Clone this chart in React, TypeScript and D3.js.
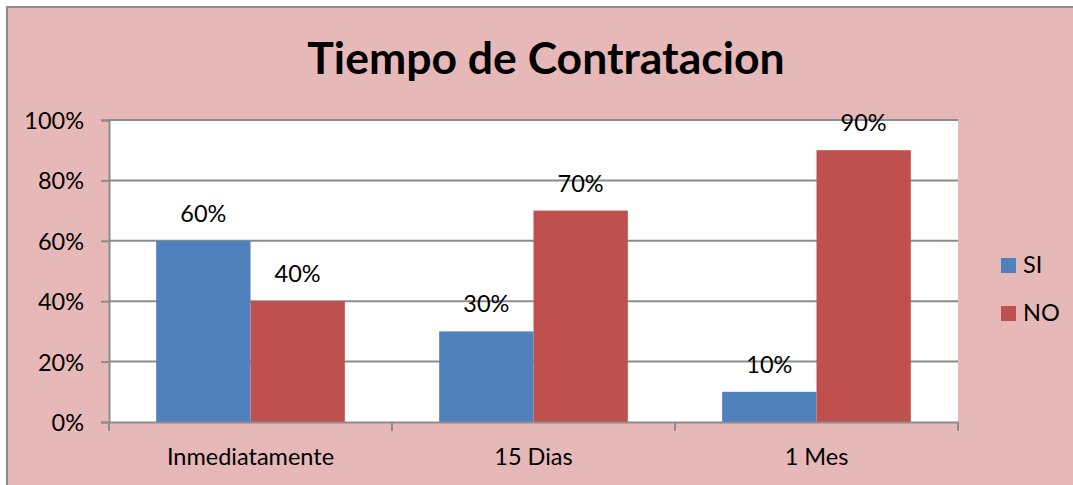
import React, { useEffect, useRef } from 'react';
import * as d3 from 'd3';

const categories = ['Inmediatamente', '15 Dias', '1 Mes'];
const seriesNames = ['SI', 'NO'];
const siValues = [0.6, 0.3, 0.1];
const noValues = [0.4, 0.7, 0.9];
const yTicks = [0, 0.2, 0.4, 0.6, 0.8, 1];
const colors = ['#4F81BD', '#C0504D'];

const App = () => {
  const ref = useRef<SVGSVGElement>(null);

  useEffect(() => {
    const svg = d3.select(ref.current);
    svg.selectAll('*').remove();

    const width = 1073;
    const height = 485;
    const font = 'Lato, "Open Sans", sans-serif';
    const fs = 23.5;
    const plot = { left: 109, top: 120, right: 958, bottom: 422 };

    // chart background + outer border
    svg.append('rect').attr('x', 7).attr('y', 7).attr('width', width + 10).attr('height', height + 10)
      .attr('fill', '#E6B8B7').attr('stroke', '#8c8c8c').attr('stroke-width', 2);

    svg.append('text').attr('x', 546).attr('y', 74).attr('text-anchor', 'middle')
      .attr('font-family', font).attr('font-weight', 'bold').attr('font-size', 44.5)
      .attr('fill', '#000').text('Tiempo de Contratacion');

    const x0 = d3.scaleBand().domain(categories).range([plot.left, plot.right]).paddingInner(0).paddingOuter(0);
    const x1 = d3.scaleBand().domain(seriesNames).range([0, x0.bandwidth()]).paddingInner(0).paddingOuter(0.5);
    const y = d3.scaleLinear().domain([0, 1]).range([plot.bottom, plot.top]);

    svg.append('rect').attr('x', plot.left).attr('y', plot.top)
      .attr('width', plot.right - plot.left).attr('height', plot.bottom - plot.top).attr('fill', '#fff');

    // gridlines
    svg.append('g').selectAll('line').data(yTicks.filter((d) => d > 0)).enter().append('line')
      .attr('x1', plot.left).attr('x2', plot.right)
      .attr('y1', (d) => y(d)).attr('y2', (d) => y(d))
      .attr('stroke', '#8c8c8c').attr('stroke-width', 2);

    const data = categories.map((c, i) => ({ cat: c, vals: [siValues[i], noValues[i]] }));

    const groups = svg.append('g').selectAll('g').data(data).enter().append('g')
      .attr('transform', (d) => `translate(${x0(d.cat)},0)`);

    groups.selectAll('rect').data((d) => d.vals.map((v, j) => ({ v, s: seriesNames[j], j }))).enter().append('rect')
      .attr('x', (d) => x1(d.s)!)
      .attr('y', (d) => y(d.v))
      .attr('width', x1.bandwidth())
      .attr('height', (d) => plot.bottom - y(d.v))
      .attr('fill', (d) => colors[d.j]);

    groups.selectAll('text').data((d) => d.vals.map((v, j) => ({ v, s: seriesNames[j] }))).enter().append('text')
      .attr('x', (d) => x1(d.s)! + x1.bandwidth() / 2)
      .attr('y', (d) => y(d.v) - 19)
      .attr('text-anchor', 'middle').attr('font-family', font).attr('font-size', fs).attr('fill', '#000')
      .text((d) => d3.format('.0%')(d.v));

    // y axis
    const yAxis = svg.append('g').attr('transform', `translate(${plot.left},0)`)
      .call(d3.axisLeft(y).tickValues(yTicks).tickFormat(d3.format('.0%')).tickSize(8).tickPadding(17));
    yAxis.select('.domain').attr('stroke', '#8c8c8c').attr('stroke-width', 2);
    yAxis.selectAll('.tick line').attr('stroke', '#8c8c8c').attr('stroke-width', 2);
    yAxis.selectAll('.tick text').attr('font-family', font).attr('font-size', fs).attr('fill', '#000')
      .attr('dy', '0.36em');

    // x axis
    const xAxis = svg.append('g').attr('transform', `translate(0,${plot.bottom})`)
      .call(d3.axisBottom(x0).tickSize(0));
    xAxis.select('.domain').attr('stroke', '#8c8c8c').attr('stroke-width', 2);
    xAxis.selectAll('.tick text').attr('font-family', font).attr('font-size', fs).attr('fill', '#000')
      .attr('y', 43).attr('dy', 0);
    xAxis.selectAll('line.sep').data(categories).enter().append('line').attr('class', 'sep')
      .attr('x1', (d) => x0(d)! + x0.bandwidth()).attr('x2', (d) => x0(d)! + x0.bandwidth())
      .attr('y1', 0).attr('y2', 9).attr('stroke', '#8c8c8c').attr('stroke-width', 2);
    xAxis.append('line').attr('x1', plot.left).attr('x2', plot.left).attr('y1', 0).attr('y2', 9)
      .attr('stroke', '#8c8c8c').attr('stroke-width', 2);

    // legend
    const legend = svg.append('g').selectAll('g').data(seriesNames).enter().append('g')
      .attr('transform', (d, i) => `translate(1001,${258 + i * 48})`);
    legend.append('rect').attr('width', 15).attr('height', 15).attr('fill', (d, i) => colors[i]);
    legend.append('text').attr('x', 22).attr('y', 15).attr('font-family', font).attr('font-size', fs)
      .attr('fill', '#000').text((d) => d);
  }, []);

  return (
    <div>
      <svg ref={ref} width={1073} height={485} style={{ position: 'absolute', left: 0, top: 0 }} />
    </div>
  );
};

export default App;
